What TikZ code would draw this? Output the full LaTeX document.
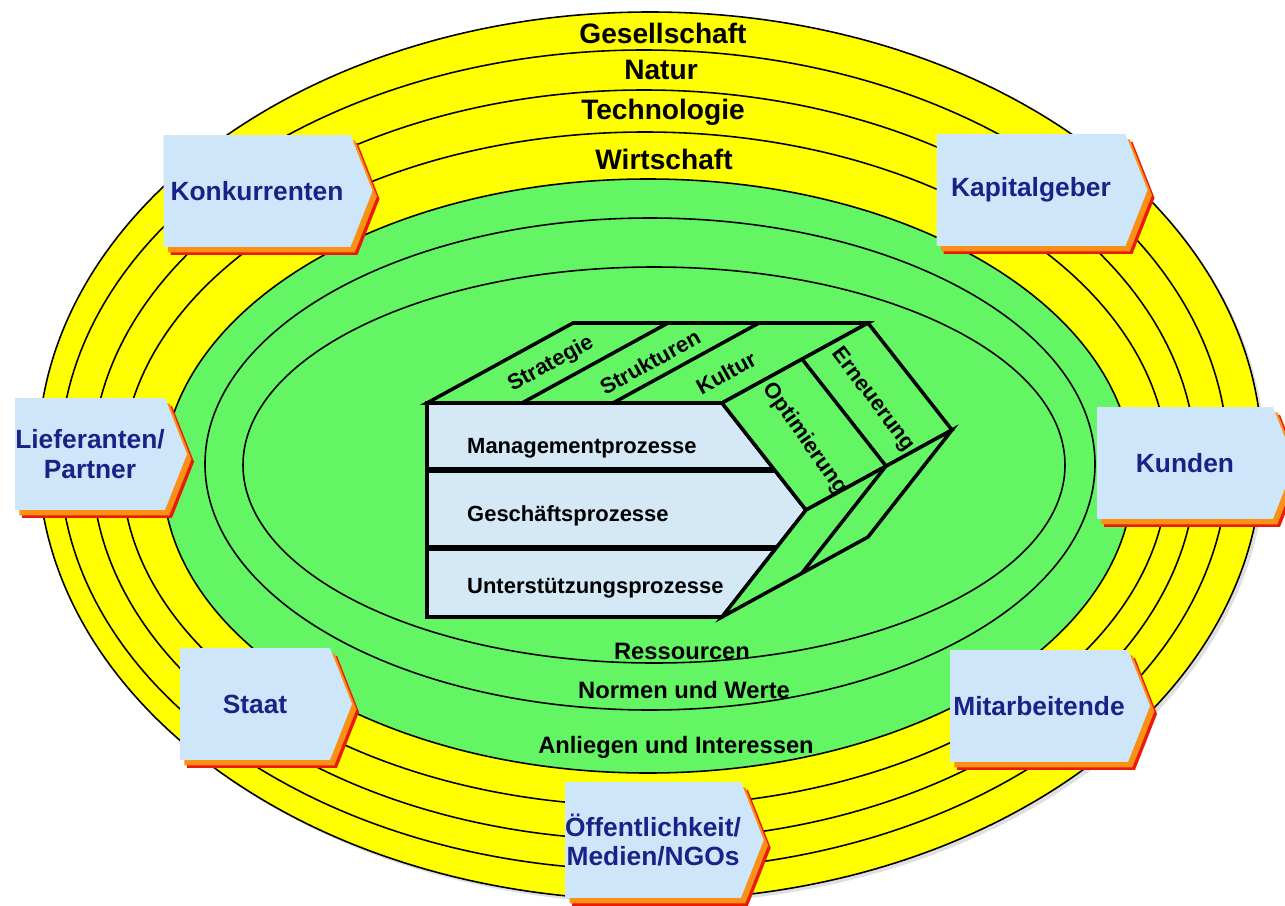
\documentclass[tikz,border=0pt]{standalone}
\usepackage{fontspec}
\setmainfont{Liberation Sans}
\usetikzlibrary{shapes.symbols,shadows}
\definecolor{ringyellow}{RGB}{255,255,0}
\definecolor{ringgreen}{RGB}{100,245,100}
\definecolor{boxblue}{RGB}{206,230,250}
\definecolor{labelblue}{RGB}{25,35,135}
\definecolor{shadowred}{RGB}{235,25,10}
\definecolor{shadoworange}{RGB}{250,145,20}
\definecolor{faceblue}{RGB}{212,232,246}

\begin{document}
\begin{tikzpicture}[
        x=0.02cm, y=-0.02cm,
        ring/.style={draw=black, line width=0.9pt},
        ringlabel/.style={font=\fontsize{16}{18}\selectfont\bfseries},
        innerlabel/.style={font=\fontsize{13.5}{15}\selectfont\bfseries},
        face/.style={draw=black, line width=2pt, line join=miter, fill=ringgreen},
        rowlabel/.style={anchor=west, font=\fontsize{12.5}{14}\selectfont\bfseries},
        sidelabel/.style={font=\fontsize{12.5}{14}\selectfont\bfseries},
        stakeholder/.style={signal, signal to=east, signal pointer angle=137, fill=boxblue,
            text=labelblue, align=center, inner sep=0pt, minimum height=2.24cm,
            font=\fontsize{15}{17}\selectfont\bfseries,
            general shadow={fill=shadowred, shadow xshift=4pt, shadow yshift=-4.5pt},
            general shadow={fill=shadoworange, shadow xshift=2.5pt, shadow yshift=-3pt}}
    ]
        \useasboundingbox (0,0) rectangle (1285,906);

        % Umweltsphaeren (yellow rings)
        \draw[ring, fill=ringyellow, drop shadow={opacity=0.25, shadow xshift=2pt, shadow yshift=-2pt}]
            (650,456) ellipse [x radius=612, y radius=444];
        \draw[ring, fill=ringyellow] (644,460) ellipse [x radius=584, y radius=410];
        \draw[ring, fill=ringyellow] (644,465) ellipse [x radius=552, y radius=375];
        \draw[ring, fill=ringyellow] (645,469) ellipse [x radius=523, y radius=337];

        % Interaktionsthemen (green rings)
        \draw[ring, fill=ringgreen] (648,476) ellipse [x radius=485, y radius=297];
        \draw[ring, fill=ringgreen] (650,464) ellipse [x radius=445, y radius=246];
        \draw[ring, fill=ringgreen] (654,465) ellipse [x radius=411, y radius=198];

        % Ring labels
        \node[ringlabel] (ges) at (663,33) {Gesellschaft};
        \node[ringlabel] (nat) at (661,70) {Natur};
        \node[ringlabel] (tech) at (663,112) {Technologie};
        \node[ringlabel] (wirt) at (664,159) {Wirtschaft};
        \node[innerlabel] (res) at (682,651) {Ressourcen};
        \node[innerlabel] (norm) at (684,690) {Normen und Werte};
        \node[innerlabel] (anl) at (676,747) {Anliegen und Interessen};

        % Prozesse (front face)
        \draw[face, fill=faceblue] (427,403) -- (722,403) -- (806,510) -- (722,617) -- (427,617) -- cycle;
        \draw[line width=3pt] (427,470) -- (774,470);
        \draw[line width=3pt] (427,548) -- (776,548);

        % Ordnungsmomente (top face)
        \draw[face] (427,403) -- (722,403) -- (868,323) -- (573,323) -- cycle;
        \draw[face] (522,403) -- (668,323);
        \draw[face] (613,403) -- (759,323);

        % Entwicklungsmodi (side faces)
        \draw[face] (722,403) -- (806,510) -- (952,430) -- (868,323) -- cycle;
        \draw[face] (802,359) -- (886,466);
        \draw[face] (806,510) -- (722,617) -- (868,537) -- (952,430) -- cycle;
        \draw[face] (886,466) -- (802,573);

        % Labels on the box
        \node[rowlabel] (mgmt) at (461,448) {Managementprozesse};
        \node[rowlabel] (gesch) at (461,516) {Geschäftsprozesse};
        \node[rowlabel] (unter) at (461,588) {Unterstützungsprozesse};
        \node[sidelabel, rotate=29] (strat) at (551,364) {Strategie};
        \node[sidelabel, rotate=29] (struk) at (650,362) {Strukturen};
        \node[sidelabel, rotate=29] (kult) at (726,373) {Kultur};
        \node[sidelabel, rotate=-55] (opt) at (805,439) {Optimierung};
        \node[sidelabel, rotate=-53] (ern) at (873,400) {Erneuerung};

        % Anspruchsgruppen
        \node[stakeholder, minimum width=4.18cm] (konk) at (257,191) {Konkurrenten};
        \node[stakeholder, minimum width=4.22cm] (kap) at (1031,190) {Kapitalgeber};
        \node[stakeholder, minimum width=3.44cm] (lief) at (90,454) {Lieferanten/\\Partner};
        \node[stakeholder, minimum width=3.96cm] (kund) at (1185,463) {Kunden};
        \node[stakeholder, minimum width=3.44cm] (staat) at (255,704) {Staat};
        \node[stakeholder, minimum width=4.00cm] (mit) at (1039,706) {Mitarbeitende};
        \node[stakeholder, minimum width=3.96cm, minimum height=2.32cm] (oeff) at (653,840) {Öffentlichkeit/\\Medien/NGOs};

    \end{tikzpicture}
\end{document}
